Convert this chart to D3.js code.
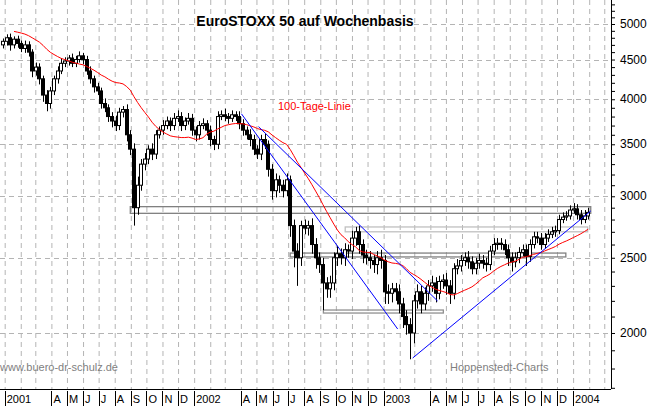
<!DOCTYPE html>
<html>
<head>
<meta charset="utf-8">
<script src="https://cdn.jsdelivr.net/npm/d3@7/dist/d3.min.js"></script>
<style>
  body { margin: 0; background: #fff; }
  svg { display: block; font-family: "Liberation Sans", Arial, sans-serif; }
</style>
</head>
<body>
<svg id="chart" width="659" height="407"></svg>
<script>
// weekly closes from 2000-12-29
const firstWeek = '2000-12-29'
const closes = [
  4750, 4800, 4700, 4780, 4720, 4650, 4700, 4600, 4350, 4400, 4250, 4050, 3950, 4100, 4250, 4350, 4450, 4480, 4520, 4450,
  4500, 4550, 4500, 4350, 4250, 4150, 4100, 3950, 3900, 3800, 3750, 3700, 3850, 3880, 3600, 3450, 2900, 3100, 3300, 3350,
  3450, 3400, 3600, 3650, 3700, 3750, 3700, 3780, 3800, 3700, 3750, 3780, 3650, 3600, 3700, 3720, 3650, 3550, 3500, 3800,
  3820, 3800, 3780, 3820, 3800, 3720, 3650, 3600, 3550, 3450, 3400, 3550, 3500, 3250, 3050, 3150, 3100, 3050, 3150, 2750,
  2550, 2500, 2750, 2730, 2750, 2600, 2500, 2450, 2320, 2280, 2320, 2500, 2530, 2500, 2560, 2550, 2650, 2700, 2600, 2520,
  2500, 2480, 2450, 2500, 2480, 2260, 2250, 2280, 2260, 2180, 2100, 2050, 2000, 2200, 2260, 2180, 2250, 2300, 2320, 2250,
  2330, 2340, 2300, 2250, 2420, 2440, 2480, 2500, 2470, 2420, 2460, 2480, 2460, 2450, 2550, 2600, 2610, 2600, 2560, 2500,
  2470, 2500, 2540, 2560, 2510, 2600, 2660, 2650, 2600, 2650, 2680, 2700, 2710, 2800, 2820, 2830, 2880, 2890, 2840, 2800,
  2830, 2860
]
const firstOpen = 4700
// wick lengths above / below the body (index points)
const wickHi = [
  40, 50, 60, 40, 50, 40, 60, 50, 40, 60, 50, 40, 60, 50, 40, 60, 70, 50, 40, 60,
  50, 60, 40, 50, 60, 40, 50, 40, 60, 40, 50, 60, 50, 40, 60, 50, 60, 80, 50, 60,
  40, 60, 50, 40, 60, 50, 40, 60, 70, 50, 40, 60, 50, 40, 50, 60, 40, 50, 40, 60,
  50, 70, 40, 50, 40, 60, 50, 40, 60, 50, 40, 50, 60, 40, 50, 60, 40, 50, 60, 40,
  50, 60, 40, 50, 40, 60, 50, 40, 50, 40, 50, 40, 60, 40, 50, 40, 60, 40, 50, 40,
  40, 50, 40, 50, 60, 40, 50, 40, 40, 50, 40, 40, 40, 40, 50, 40, 40, 40, 50, 40,
  40, 40, 50, 40, 40, 50, 40, 40, 50, 40, 40, 50, 40, 40, 40, 50, 40, 40, 40, 40,
  40, 40, 40, 40, 40, 40, 40, 40, 40, 40, 40, 40, 40, 40, 40, 40, 40, 50, 40, 40,
  50, 40
]
const wickLo = [
  50, 60, 80, 50, 60, 50, 60, 60, 80, 60, 70, 80, 90, 60, 50, 60, 40, 50, 60, 50,
  50, 40, 60, 50, 60, 70, 50, 60, 50, 60, 70, 60, 50, 60, 70, 60, 150, 60, 50, 60,
  50, 60, 50, 40, 50, 40, 60, 50, 40, 60, 50, 40, 60, 70, 50, 40, 60, 70, 60, 50,
  40, 50, 60, 40, 50, 60, 60, 50, 70, 60, 50, 60, 50, 70, 80, 60, 70, 60, 50, 90,
  120, 200, 60, 50, 60, 70, 80, 60, 180, 60, 60, 50, 60, 50, 60, 50, 60, 60, 70, 60,
  50, 60, 60, 70, 60, 80, 70, 60, 60, 60, 70, 60, 150, 60, 50, 60, 40, 50, 40, 60,
  40, 50, 60, 70, 40, 40, 40, 40, 50, 40, 40, 40, 40, 50, 40, 30, 40, 40, 40, 60,
  70, 40, 40, 30, 70, 40, 30, 40, 40, 30, 30, 30, 40, 30, 30, 30, 30, 30, 40, 40,
  30, 30
]
// closes before the chart starts, for the 100-day (20-week) average
const priorCloses = [
  5100, 5150, 5050, 5000, 4950, 4900, 5000, 5050, 4950, 5000,
  4900, 4950, 5000, 4950, 4850, 4900, 4950, 4800, 4850, 4800
]
const maWeeks = 20

const yTicks = [2000, 2500, 3000, 3500, 4000, 4500, 5000]
const monthLabels = ['', '', '', 'A', 'M', 'J', 'J', 'A', 'S', 'O', 'N', 'D']

const trendLines = [
  { from: ['2002-04-02', 3832], to: ['2003-01-28', 2024] },
  { from: ['2002-05-05', 3688], to: ['2003-04-15', 2199] },
  { from: ['2003-02-26', 1857], to: ['2004-02-04', 2872] }
]
const zones = [
  { from: '2001-08-31', to: '2004-02-04', lo: 2852, hi: 2909, color: '#808080' },
  { from: '2002-10-19', to: '2004-01-29', lo: 2700, hi: 2739, color: '#c0c0c0' },
  { from: '2002-07-05', to: '2003-12-18', lo: 2506, hi: 2535, color: '#808080' },
  { from: '2002-09-07', to: '2003-04-26', lo: 2122, hi: 2141, color: '#909090' }
]

const parse = d3.utcParse('%Y-%m-%d')
const W = 611, H = 389

const svg = d3.select('#chart')
const x = d3.scaleUtc().domain([parse('2000-12-23'), parse('2004-03-14')]).range([0, W])
const y = d3.scaleLog().domain([1699, 5369]).range([388, 0])

const t0 = parse(firstWeek)
const candles = closes.map((c, i) => {
  const o = i === 0 ? firstOpen : closes[i - 1]
  return {
    date: d3.utcDay.offset(t0, 7 * i),
    open: o, close: c,
    high: Math.max(o, c) + wickHi[i],
    low: Math.min(o, c) - wickLo[i]
  }
})

const all = priorCloses.concat(closes)
const ma = closes.map((c, i) => {
  const j = i + priorCloses.length
  return { date: candles[i].date, value: d3.mean(all.slice(j - maWeeks + 1, j + 1)) }
}).slice(3)

// grid
const months = d3.utcMonth.range(parse('2001-01-01'), parse('2004-03-14'))
svg.append('g').selectAll('line').data(months).join('line')
  .attr('x1', d => x(d) + 0.5).attr('x2', d => x(d) + 0.5)
  .attr('y1', 0).attr('y2', H)
  .attr('stroke', '#b4b4b4').attr('stroke-dasharray', '5,4')
svg.append('g').selectAll('line').data(yTicks).join('line')
  .attr('x1', 0).attr('x2', W)
  .attr('y1', d => Math.round(y(d)) + 0.5).attr('y2', d => Math.round(y(d)) + 0.5)
  .attr('stroke', '#b4b4b4').attr('stroke-dasharray', '5,4')

// zones
svg.append('g').selectAll('rect').data(zones).join('rect')
  .attr('x', d => x(parse(d.from))).attr('width', d => x(parse(d.to)) - x(parse(d.from)))
  .attr('y', d => y(d.hi)).attr('height', d => y(d.lo) - y(d.hi))
  .attr('fill', 'none').attr('stroke', d => d.color).attr('stroke-width', 1.3)

// candles
const bw = 3
const cg = svg.append('g')
cg.selectAll('line').data(candles).join('line')
  .attr('x1', d => Math.round(x(d.date)) + 0.5).attr('x2', d => Math.round(x(d.date)) + 0.5)
  .attr('y1', d => y(d.high)).attr('y2', d => y(d.low))
  .attr('stroke', '#000')
cg.selectAll('rect').data(candles).join('rect')
  .attr('x', d => Math.round(x(d.date)) - 1.5)
  .attr('width', bw)
  .attr('y', d => y(Math.max(d.open, d.close)))
  .attr('height', d => Math.max(1, Math.abs(y(d.open) - y(d.close))))
  .attr('fill', d => d.close >= d.open ? '#fff' : '#000')
  .attr('stroke', '#000')

// moving average
svg.append('path').datum(ma)
  .attr('d', d3.line().x(d => x(d.date)).y(d => y(d.value)))
  .attr('fill', 'none').attr('stroke', '#ff0000').attr('stroke-width', 1)

// trend lines
svg.append('g').selectAll('line').data(trendLines).join('line')
  .attr('x1', d => x(parse(d.from[0]))).attr('y1', d => y(d.from[1]))
  .attr('x2', d => x(parse(d.to[0]))).attr('y2', d => y(d.to[1]))
  .attr('stroke', '#0000ff').attr('stroke-width', 1)

// frame
svg.append('line').attr('x1', W + 0.5).attr('x2', W + 0.5).attr('y1', 0).attr('y2', H).attr('stroke', '#000')
svg.append('line').attr('x1', 0).attr('x2', W).attr('y1', H + 0.5).attr('y2', H + 0.5).attr('stroke', '#000')

// right axis
const yAxis = d3.axisRight(y).tickValues(d3.range(1700, 5400, 100)).tickSize(4).tickFormat('')
svg.append('g').attr('transform', `translate(${W},0)`).call(yAxis)
  .call(g => g.select('.domain').remove())
svg.append('g').selectAll('text').data(yTicks).join('text')
  .attr('x', 620).attr('y', d => y(d) + 4)
  .attr('font-size', 12).text(d => d)

// bottom axis labels
const bg = svg.append('g')
bg.selectAll('line').data(months.filter(d => d.getUTCMonth() !== 1 && d.getUTCMonth() !== 2)).join('line')
  .attr('x1', d => Math.round(x(d)) + 0.5).attr('x2', d => Math.round(x(d)) + 0.5)
  .attr('y1', H + 2).attr('y2', 406).attr('stroke', '#000')
bg.selectAll('text').data(months).join('text')
  .attr('x', d => x(d) + 2).attr('y', 403)
  .attr('font-size', 11)
  .text(d => d.getUTCMonth() === 0 ? d.getUTCFullYear() : monthLabels[d.getUTCMonth()])

// texts
svg.append('text').attr('x', 305).attr('y', 26).attr('text-anchor', 'middle')
  .attr('font-size', 14).attr('font-weight', 'bold').text('EuroSTOXX 50 auf Wochenbasis')
svg.append('text').attr('x', 278).attr('y', 110).attr('fill', '#ff0000')
  .attr('font-size', 11).text('100-Tage-Linie')
svg.append('text').attr('x', 0).attr('y', 371).attr('fill', '#808080')
  .attr('font-size', 11).text('www.buero-dr-schulz.de')
svg.append('text').attr('x', 450).attr('y', 371).attr('fill', '#808080')
  .attr('font-size', 11).text('Hoppenstedt-Charts')
</script>
</body>
</html>
